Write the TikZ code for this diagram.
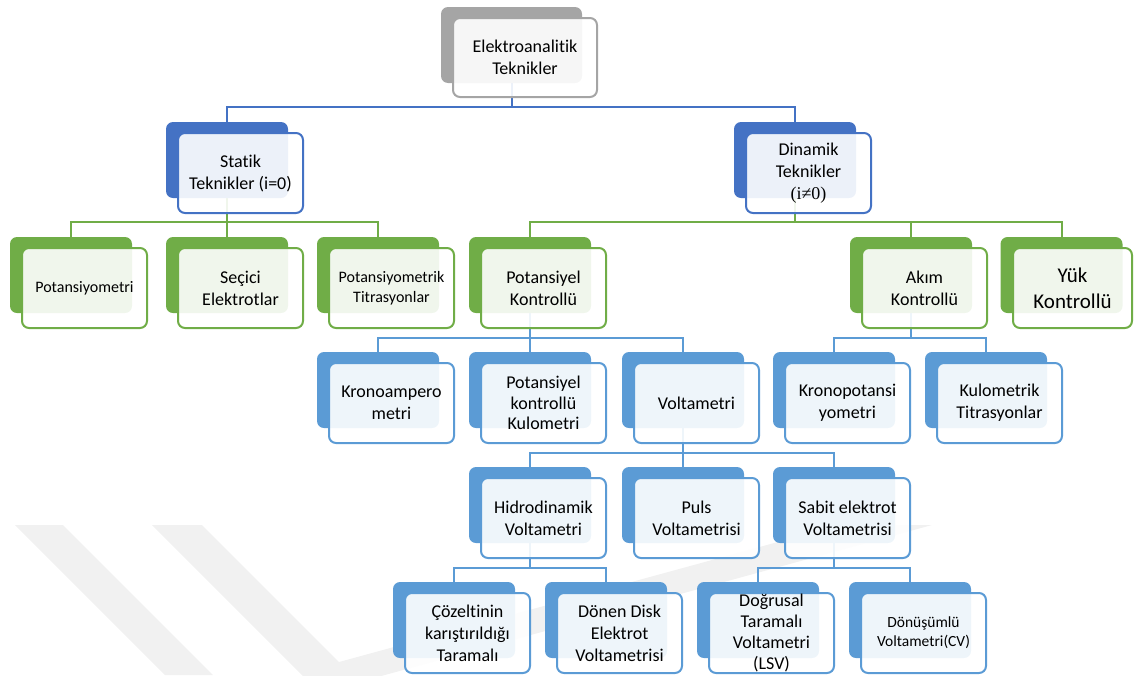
\documentclass[tikz,border=0pt]{standalone}
\usepackage{fontspec}
\setmainfont{Carlito}[Ligatures=NoCommon]
\newfontfamily\serifx{Liberation Serif}
\definecolor{cgray}{HTML}{A5A5A5}
\definecolor{cdblue}{HTML}{4472C4}
\definecolor{cgreen}{HTML}{70AD47}
\definecolor{cblue}{HTML}{5B9BD5}
\definecolor{wm}{HTML}{F1F1F1}
\pgfdeclarelayer{wmlayer}
\pgfdeclarelayer{connlayer}
\pgfsetlayers{wmlayer,connlayer,main}
\tikzset{
  backbox/.style={rectangle, rounded corners=7pt, inner sep=0pt, outer sep=0pt,
    minimum width=122pt, minimum height=76pt},
  frontbox/.style={rectangle, rounded corners=7pt, inner sep=0pt, outer sep=0pt,
    minimum width=125pt, minimum height=80pt, fill=white, fill opacity=0.9,
    text opacity=1, line width=2pt, align=center, text=black,
    font=\fontsize{18}{22}\selectfont},
  conn/.style={line width=2pt},
}
\newcommand\tbox[6]{%
  \node[backbox, fill=#4] (#1b) at ({#2+61},{#3+38}) {};
  \node[frontbox, draw=#4, #6] (#1) at ({#2+74.5},{#3+51}) {#5};
}
\begin{document}
\begin{tikzpicture}[x=1pt,y=-1pt]
\useasboundingbox (0,0) rectangle (1134,675);

\coordinate (h0) at (0,107);
\coordinate (h1) at (0,222);
\coordinate (h2) at (0,338);
\coordinate (h3) at (0,453);
\coordinate (h4) at (0,568);

% root
\node[backbox, fill=cgray, minimum width=141pt] (rootb) at (511.5,45) {};
\node[frontbox, draw=cgray, minimum width=144pt, minimum height=79pt] (root) at (525,57.5) {Elektroanalitik\\Teknikler};
% level 1
\tbox{stat}{166}{122}{cdblue}{Statik\\Teknikler (i=0)}{}
\tbox{din}{734}{122}{cdblue}{Dinamik\\Teknikler\\{\serifx (i≠0)}}{}
% level 2
\tbox{pot}{10}{237}{cgreen}{Potansiyometri}{font=\fontsize{16}{20}\selectfont}
\tbox{sec}{166}{237}{cgreen}{Seçici\\Elektrotlar}{}
\tbox{pott}{317}{237}{cgreen}{Potansiyometrik\\Titrasyonlar}{font=\fontsize{16}{20}\selectfont}
\tbox{potk}{469}{237}{cgreen}{Potansiyel\\Kontrollü}{}
\tbox{akim}{850}{237}{cgreen}{Akım\\Kontrollü}{}
\node[backbox, fill=cgreen] (yukb) at (1061.5,275) {};
\node[frontbox, draw=cgreen, minimum width=119pt, font=\fontsize{21}{26}\selectfont] (yuk) at (1072.5,288) {Yük\\Kontrollü};
% level 3
\tbox{krono}{317}{352}{cblue}{Kronoampero\\metri}{}
\tbox{pkk}{469}{352}{cblue}{Potansiyel\\kontrollü\\Kulometri}{font=\fontsize{18}{20.5}\selectfont}
\tbox{volt}{622}{352}{cblue}{Voltametri}{}
\tbox{kronop}{773}{352}{cblue}{Kronopotansi\\yometri}{}
\tbox{kult}{925}{352}{cblue}{Kulometrik\\Titrasyonlar}{}
% level 4
\tbox{hidro}{469}{467}{cblue}{Hidrodinamik\\Voltametri}{}
\tbox{puls}{622}{467}{cblue}{Puls\\Voltametrisi}{}
\tbox{sabit}{773}{467}{cblue}{Sabit elektrot\\Voltametrisi}{}
% level 5
\tbox{coz}{393}{582}{cblue}{Çözeltinin\\karıştırıldığı\\Taramalı}{}
\tbox{donen}{545}{582}{cblue}{Dönen Disk\\Elektrot\\Voltametrisi}{}
\tbox{dogru}{697}{582}{cblue}{Doğrusal\\Taramalı\\Voltametri\\(LSV)}{font=\fontsize{18}{21}\selectfont}
\tbox{donus}{849}{582}{cblue}{Dönüşümlü\\Voltametri(CV)}{font=\fontsize{15.5}{19}\selectfont}

\begin{pgfonlayer}{wmlayer}
\begin{scope}
\clip (0,0) rectangle (1134,675);
\fill[wm] (15,525) -- (63,525) -- (213,675) -- (165,675) -- cycle;
\fill[wm] (152,525) -- (202,525) -- (339,662) -- (840,525) -- (932,525)
  -- (374,678) -- (305,678) -- cycle;
\end{scope}
\end{pgfonlayer}

\begin{pgfonlayer}{connlayer}
% root -> level 1
\draw[conn, cdblue] (rootb.south) -- (rootb.south |- h0);
\draw[conn, cdblue] (statb.north) -- (statb.north |- h0) -- (dinb.north |- h0) -- (dinb.north);
% Statik -> level 2
\draw[conn, cgreen] (statb.south) -- (statb.south |- h1);
\draw[conn, cgreen] (potb.north) -- (potb.north |- h1) -- (pottb.north |- h1) -- (pottb.north);
\draw[conn, cgreen] (secb.north) -- (secb.north |- h1);
% Dinamik -> level 2
\draw[conn, cgreen] (dinb.south) -- (dinb.south |- h1);
\draw[conn, cgreen] (potkb.north) -- (potkb.north |- h1) -- (yukb.north |- h1) -- (yukb.north);
\draw[conn, cgreen] (akimb.north) -- (akimb.north |- h1);
% Potansiyel Kontrollu -> level 3
\draw[conn, cblue] (potkb.south) -- (potkb.south |- h2);
\draw[conn, cblue] (kronob.north) -- (kronob.north |- h2) -- (voltb.north |- h2) -- (voltb.north);
\draw[conn, cblue] (pkkb.north) -- (pkkb.north |- h2);
% Akim -> level 3
\draw[conn, cblue] (akimb.south) -- (akimb.south |- h2);
\draw[conn, cblue] (kronopb.north) -- (kronopb.north |- h2) -- (kultb.north |- h2) -- (kultb.north);
% Voltametri -> level 4
\draw[conn, cblue] (voltb.south) -- (voltb.south |- h3);
\draw[conn, cblue] (hidrob.north) -- (hidrob.north |- h3) -- (sabitb.north |- h3) -- (sabitb.north);
\draw[conn, cblue] (pulsb.north) -- (pulsb.north |- h3);
% Hidrodinamik -> level 5
\draw[conn, cblue] (hidrob.south) -- (hidrob.south |- h4);
\draw[conn, cblue] (cozb.north) -- (cozb.north |- h4) -- (donenb.north |- h4) -- (donenb.north);
% Sabit -> level 5
\draw[conn, cblue] (sabitb.south) -- (sabitb.south |- h4);
\draw[conn, cblue] (dogrub.north) -- (dogrub.north |- h4) -- (donusb.north |- h4) -- (donusb.north);
\end{pgfonlayer}
\end{tikzpicture}
\end{document}
